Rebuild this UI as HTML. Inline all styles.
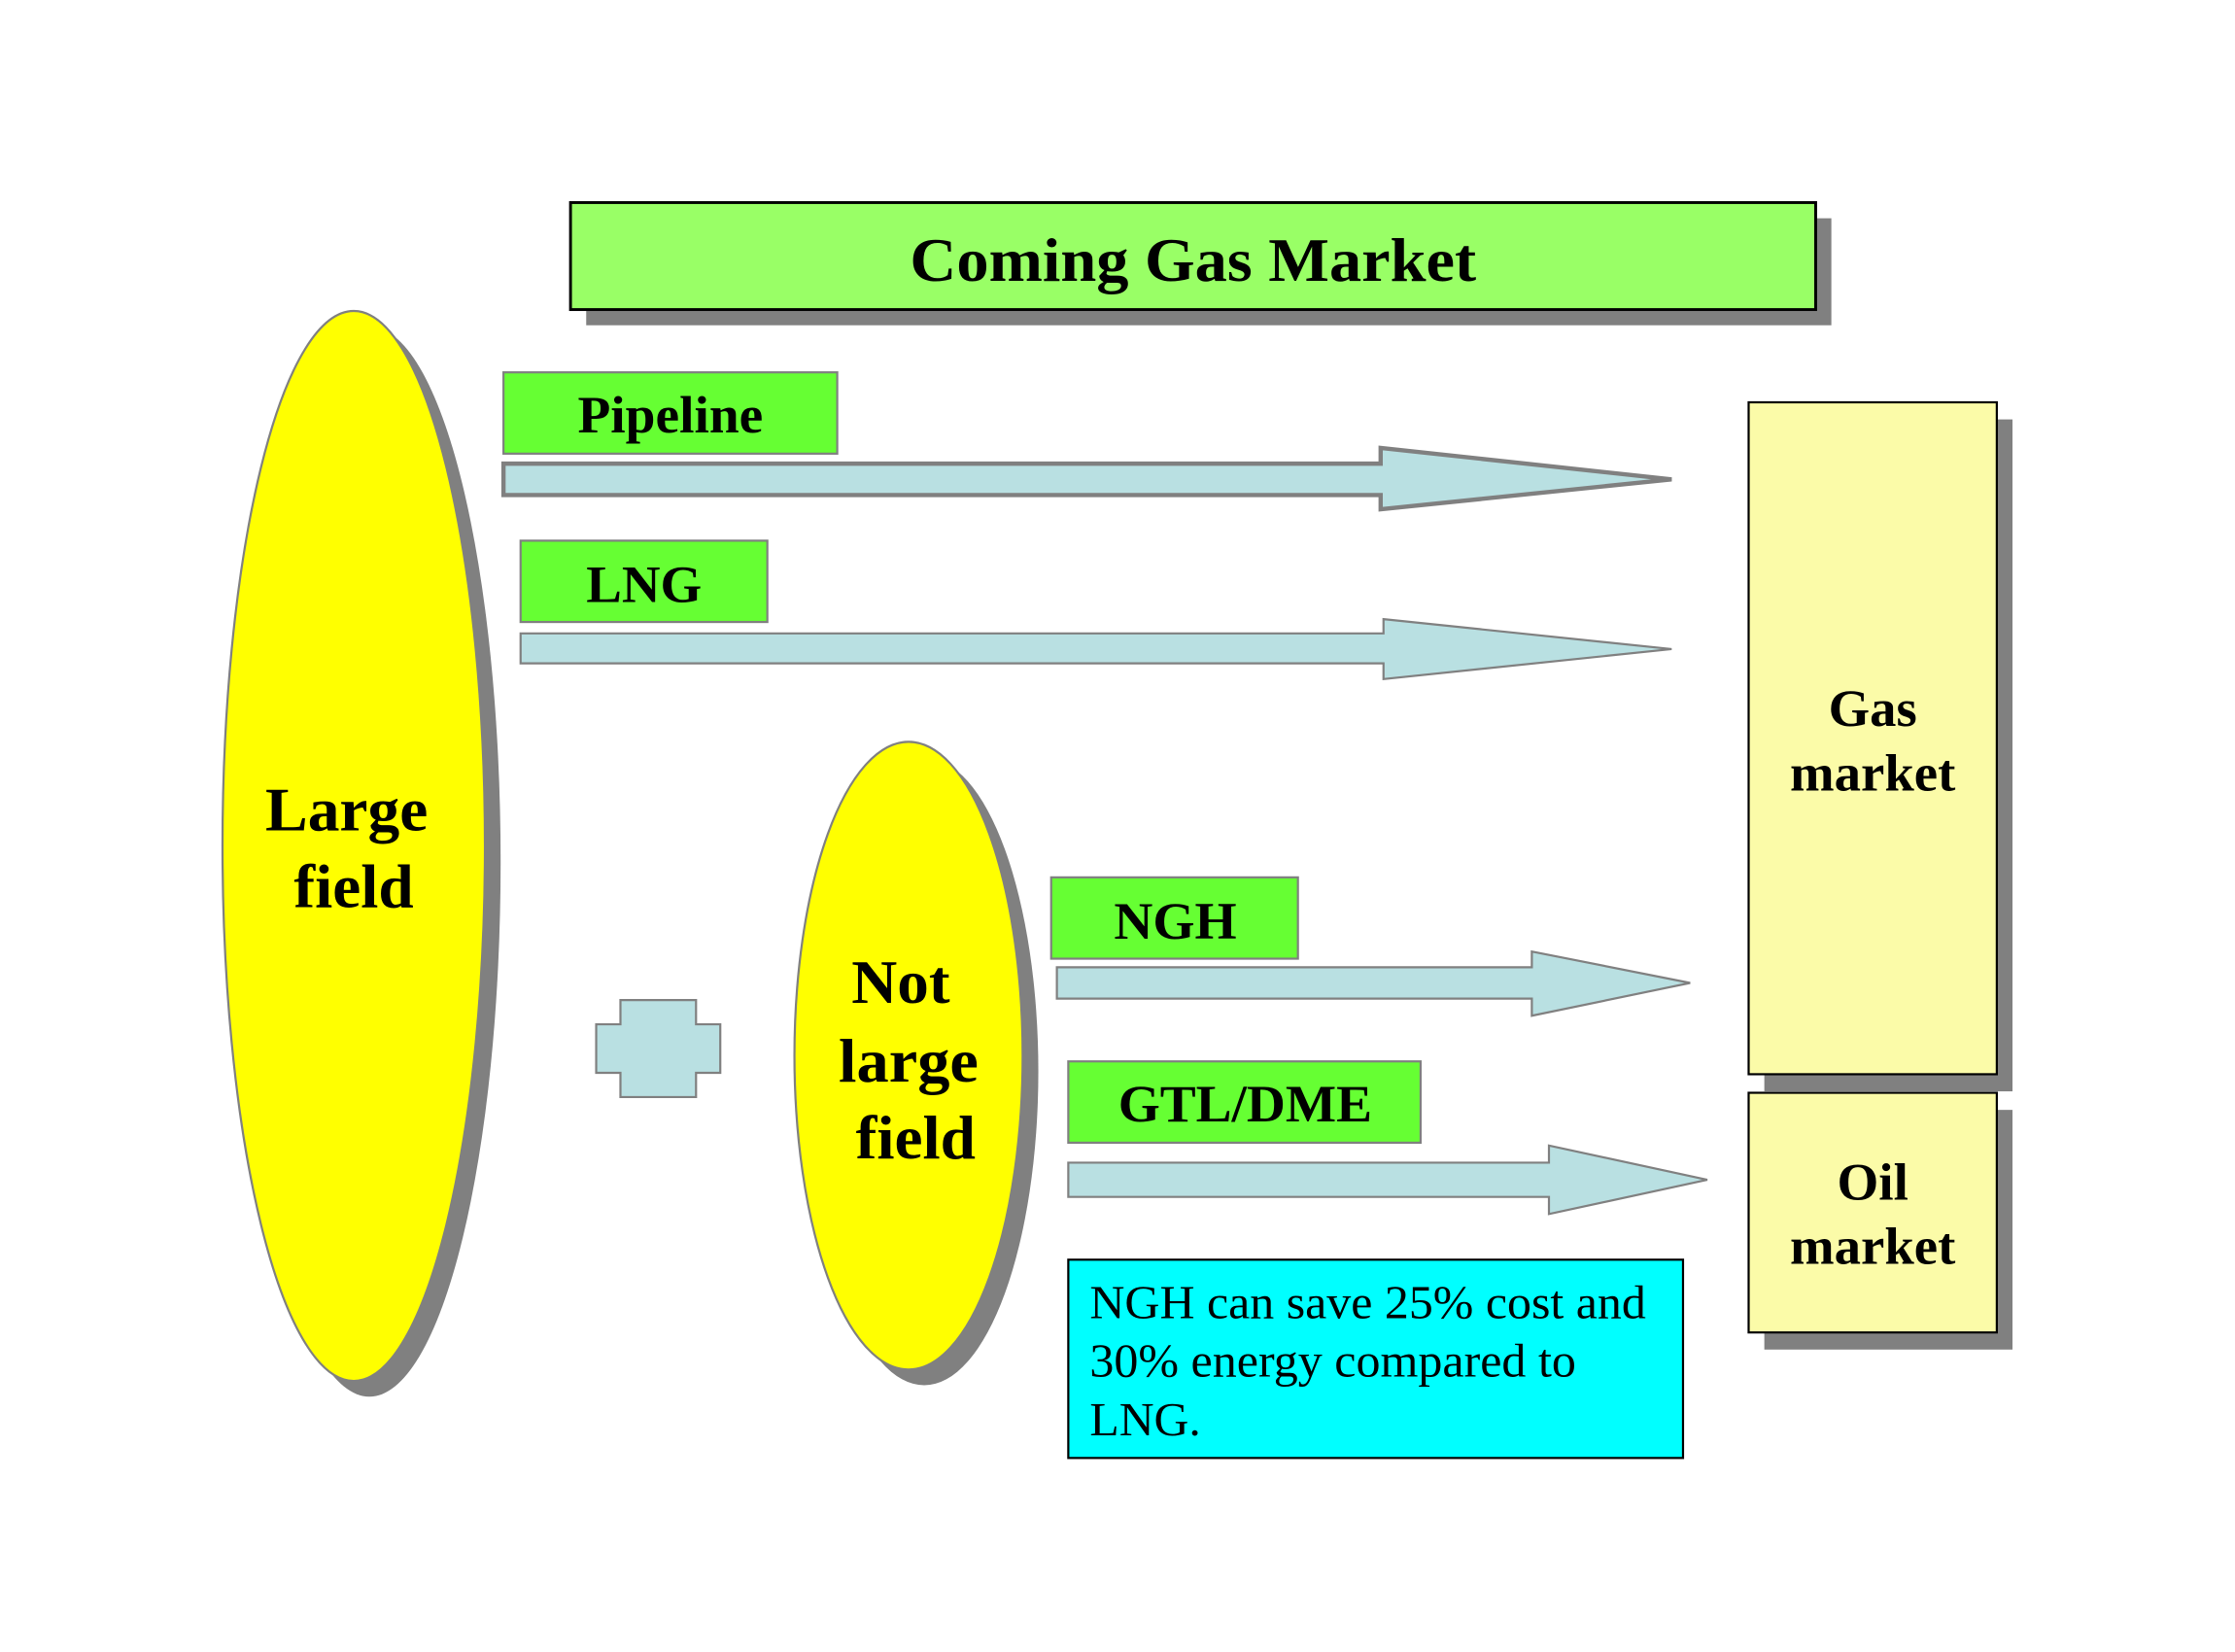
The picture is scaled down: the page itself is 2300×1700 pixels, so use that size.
<!DOCTYPE html>
<html><head><meta charset="utf-8"><style>html,body{margin:0;padding:0;background:#fff}svg{display:block}</style></head>
<body>
<svg width="2300" height="1700" viewBox="0 0 1567 1158" preserveAspectRatio="none" xmlns="http://www.w3.org/2000/svg" font-family="'Liberation Serif', serif">
<rect width="1567" height="1158" fill="#fff"/>
<rect x="411" y="153" width="873" height="75" fill="#808080"/>
<rect x="400" y="142" width="873" height="75" fill="#99ff66" stroke="#000" stroke-width="2"/>
<text x="638" y="197" font-size="43" font-weight="bold" textLength="397" lengthAdjust="spacingAndGlyphs">Coming Gas Market</text>
<ellipse cx="259" cy="604" rx="92" ry="375" fill="#808080"/>
<ellipse cx="248" cy="593" rx="92" ry="375" fill="#ffff00" stroke="#808080" stroke-width="1.5"/>
<text x="186" y="582" font-size="43" font-weight="bold" textLength="114" lengthAdjust="spacingAndGlyphs">Large</text>
<text x="206" y="636" font-size="43" font-weight="bold" textLength="84" lengthAdjust="spacingAndGlyphs">field</text>
<ellipse cx="648" cy="751" rx="80" ry="220" fill="#808080"/>
<ellipse cx="637" cy="740" rx="80" ry="220" fill="#ffff00" stroke="#808080" stroke-width="1.5"/>
<text x="597" y="703" font-size="43" font-weight="bold" textLength="69" lengthAdjust="spacingAndGlyphs">Not</text>
<text x="588" y="758" font-size="43" font-weight="bold" textLength="98" lengthAdjust="spacingAndGlyphs">large</text>
<text x="600" y="812" font-size="43" font-weight="bold" textLength="84" lengthAdjust="spacingAndGlyphs">field</text>
<polygon points="435,701 488,701 488,718 505,718 505,752 488,752 488,769 435,769 435,752 418,752 418,718 435,718" fill="#b9e0e2" stroke="#808080" stroke-width="1.5"/>
<g font-size="37" font-weight="bold">
<rect x="353" y="261" width="234" height="57" fill="#66ff33" stroke="#808080" stroke-width="1.5"/>
<text x="405" y="303" textLength="130" lengthAdjust="spacingAndGlyphs">Pipeline</text>
<rect x="365" y="379" width="173" height="57" fill="#66ff33" stroke="#808080" stroke-width="1.5"/>
<text x="411" y="422" textLength="81" lengthAdjust="spacingAndGlyphs">LNG</text>
<rect x="737" y="615" width="173" height="57" fill="#66ff33" stroke="#808080" stroke-width="1.5"/>
<text x="781" y="658" textLength="86" lengthAdjust="spacingAndGlyphs">NGH</text>
<rect x="749" y="744" width="247" height="57" fill="#66ff33" stroke="#808080" stroke-width="1.5"/>
<text x="784" y="786" textLength="178" lengthAdjust="spacingAndGlyphs">GTL/DME</text>
</g>
<polygon points="353,325 968,325 968,314 1172,336 968,357 968,347 353,347" fill="#b9e0e2" stroke="#808080" stroke-width="3"/>
<polygon points="365,444 970,444 970,434 1172,455 970,476 970,465 365,465" fill="#b9e0e2" stroke="#808080" stroke-width="1.5"/>
<polygon points="741,678 1074,678 1074,667 1185,689 1074,712 1074,700 741,700" fill="#b9e0e2" stroke="#808080" stroke-width="1.5"/>
<polygon points="749,815 1086,815 1086,803 1197,827 1086,851 1086,839 749,839" fill="#b9e0e2" stroke="#808080" stroke-width="1.5"/>
<rect x="749" y="883" width="431" height="139" fill="#00ffff" stroke="#000" stroke-width="1.5"/>
<g font-size="33">
<text x="764" y="924" textLength="390" lengthAdjust="spacingAndGlyphs">NGH can save 25% cost and</text>
<text x="764" y="965" textLength="341" lengthAdjust="spacingAndGlyphs">30% energy compared to</text>
<text x="764" y="1006" textLength="78" lengthAdjust="spacingAndGlyphs">LNG.</text>
</g>
<rect x="1237" y="294" width="174" height="471" fill="#808080"/>
<rect x="1226" y="282" width="174" height="471" fill="#fbfba8" stroke="#000" stroke-width="1.5"/>
<rect x="1237" y="778" width="174" height="168" fill="#808080"/>
<rect x="1226" y="766" width="174" height="168" fill="#fbfba8" stroke="#000" stroke-width="1.5"/>
<g font-size="37" font-weight="bold">
<text x="1282" y="509" textLength="62" lengthAdjust="spacingAndGlyphs">Gas</text>
<text x="1255" y="554" textLength="116" lengthAdjust="spacingAndGlyphs">market</text>
<text x="1288" y="841" textLength="50" lengthAdjust="spacingAndGlyphs">Oil</text>
<text x="1255" y="886" textLength="116" lengthAdjust="spacingAndGlyphs">market</text>
</g>
</svg>
</body></html>
